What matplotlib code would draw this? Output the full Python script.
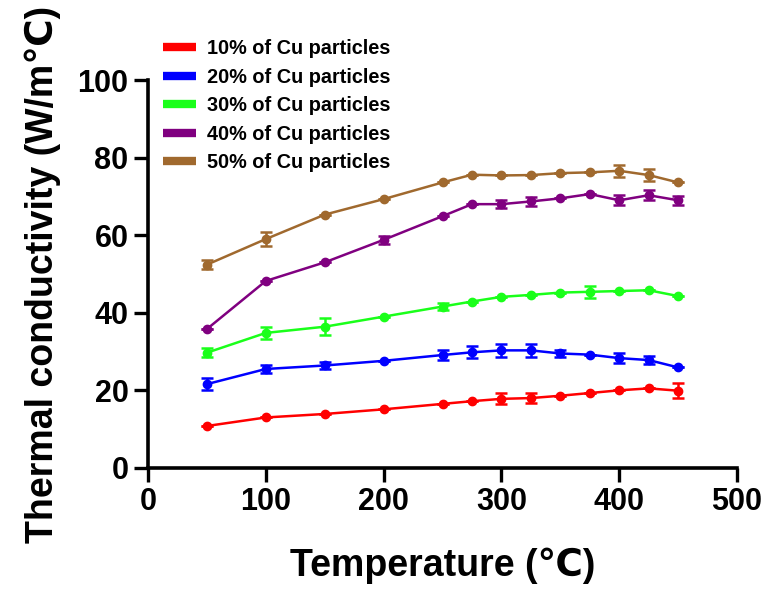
import numpy as np
import matplotlib
matplotlib.use("Agg")
from matplotlib import pyplot as plt

temps = [50, 100, 150, 200, 250, 275, 300, 325, 350, 375, 400, 425, 450]

cu10 = [10.8, 13.0, 13.9, 15.1, 16.5, 17.2, 17.8, 18.0, 18.6, 19.3, 20.0, 20.5, 19.9]
cu10_err = [0, 0, 0, 0, 0, 0, 1.4, 1.4, 0, 0, 0, 0, 2.0]
cu20 = [21.6, 25.5, 26.4, 27.6, 29.1, 29.8, 30.3, 30.3, 29.5, 29.2, 28.3, 27.8, 25.9]
cu20_err = [1.6, 1.0, 1.0, 0, 1.4, 1.5, 1.7, 1.7, 1.0, 0, 1.3, 1.1, 0]
cu30 = [29.7, 34.8, 36.4, 39.0, 41.6, 42.9, 44.1, 44.6, 45.2, 45.4, 45.6, 45.8, 44.3]
cu30_err = [1.2, 1.6, 2.2, 0, 1.0, 0, 0, 0, 0, 1.5, 0, 0, 0]
cu40 = [35.8, 48.2, 53.0, 58.8, 64.9, 68.0, 68.0, 68.7, 69.5, 70.6, 69.0, 70.3, 69.0]
cu40_err = [0, 0, 0, 1.1, 0, 0, 1.1, 1.1, 0, 0, 1.3, 1.3, 1.2]
cu50 = [52.4, 59.0, 65.3, 69.3, 73.6, 75.6, 75.4, 75.5, 76.0, 76.2, 76.6, 75.5, 73.6]
cu50_err = [1.1, 1.9, 0, 0, 0, 0, 0, 0, 0, 0, 1.6, 1.6, 0]

labels = ["10% of Cu particles", "20% of Cu particles", "30% of Cu particles",
          "40% of Cu particles", "50% of Cu particles"]
colors = ["#FF0000", "#0000FF", "#1AFF1A", "#800080", "#A0692E"]

fig = plt.figure(figsize=(7.63, 5.93), dpi=100)
ax = fig.add_axes([0.194, 0.211, 0.772, 0.654])

series = [(cu10, cu10_err), (cu20, cu20_err), (cu30, cu30_err), (cu40, cu40_err), (cu50, cu50_err)]
handles = []
for (vals, err), c, lab in zip(series, colors, labels):
    ax.errorbar(temps, vals, yerr=err, color=c, marker="o", markersize=6,
                linewidth=1.8, elinewidth=1.8, capsize=4, capthick=1.8)
    h, = ax.plot([], [], color=c, linewidth=6, solid_capstyle="butt", label=lab)
    handles.append(h)

ax.set_xlim(0, 500)
ax.set_ylim(0, 100)
ax.set_xticks([0, 100, 200, 300, 400, 500])
ax.set_yticks([0, 20, 40, 60, 80, 100])
for s in ["top", "right"]:
    ax.spines[s].set_visible(False)
for s in ["left", "bottom"]:
    ax.spines[s].set_linewidth(2.6)
ax.tick_params(axis="both", direction="out", length=10, width=2.4, pad=4)
for t in ax.get_xticklabels() + ax.get_yticklabels():
    t.set_fontfamily("Liberation Sans")
    t.set_fontweight("bold")
    t.set_fontsize(22)

ax.set_xlabel("Temperature (℃)", fontfamily=["Liberation Sans", "DejaVu Sans"], fontweight="bold",
              fontsize=27, labelpad=22)
ax.set_ylabel("Thermal conductivity (W/m℃)", fontfamily=["Liberation Sans", "DejaVu Sans"],
              fontweight="bold", fontsize=27, labelpad=12)

leg = fig.legend(handles=handles, loc="upper left", bbox_to_anchor=(0.19, 0.964),
                 frameon=False, handlelength=1.66, handletextpad=0.55, labelspacing=0.48,
                 prop={"family": "Liberation Sans", "weight": "bold", "size": 14.3})

fig.savefig("out.png", dpi=100)
